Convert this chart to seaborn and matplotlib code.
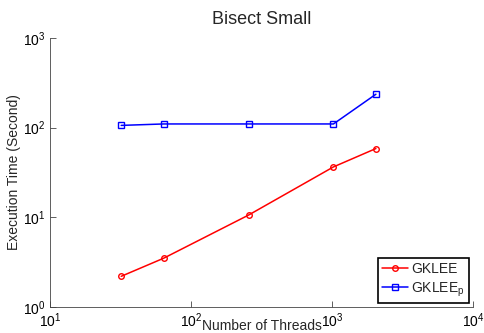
import numpy as np
import pandas as pd
import matplotlib
matplotlib.use("Agg")
import matplotlib.pyplot as plt
import seaborn as sns

threads = [32, 64, 256, 1024, 2048]
gklee = [2.2, 3.5, 10.6, 36.5, 58.5]
gklee_p = [106, 110, 110, 110, 236]
series_names = ["GKLEE", r"GKLEE$_\mathregular{p}$"]

sns.set_style("ticks")
plt.rcParams['font.family'] = ['Liberation Sans', 'DejaVu Sans']
plt.rcParams['mathtext.fontset'] = 'custom'
plt.rcParams['mathtext.rm'] = 'Liberation Sans'

df = pd.DataFrame({
    "threads": threads * 2,
    "time": gklee + gklee_p,
    "series": [series_names[0]] * len(threads) + [series_names[1]] * len(threads),
})

fig = plt.figure(figsize=(4.84, 3.33), dpi=100)
ax = fig.add_axes([50/484, 1 - 307/333, 423/484, 269/333])

sns.lineplot(data=df, x="threads", y="time", hue="series", style="series",
             palette=["#ff0000", "#0000ff"], markers=["o", "s"], dashes=False,
             markersize=4, markerfacecolor="none", markeredgewidth=1.0,
             linewidth=1.1, ax=ax)
for line in ax.lines:
    line.set_markerfacecolor("none")
    line.set_markeredgecolor(line.get_color())

ax.set_xscale("log")
ax.set_yscale("log")
ax.set_xlim(10, 1e4)
ax.set_ylim(1, 1e3)
ax.set_xticks([10, 100, 1000, 10000])
ax.set_yticks([1, 10, 100, 1000])
ax.xaxis.set_minor_locator(matplotlib.ticker.NullLocator())
ax.yaxis.set_minor_locator(matplotlib.ticker.NullLocator())
ax.tick_params(direction="in", length=4, labelsize=10, width=0.6, colors="#444444", labelcolor="black")
for s in ["top", "right"]:
    ax.spines[s].set_visible(False)
for s in ["left", "bottom"]:
    ax.spines[s].set_linewidth(0.6)
    ax.spines[s].set_color("#444444")

ax.set_title("Bisect Small", fontsize=13, pad=10)
ax.set_xlabel("Number of Threads", fontsize=10)
ax.xaxis.set_label_coords(0.5, -0.045)
ax.set_ylabel("Execution Time (Second)", fontsize=10)
ax.yaxis.set_label_coords(-0.068, 0.5)

leg = ax.legend(loc="lower right", fontsize=10, frameon=True, fancybox=False,
                edgecolor="black", framealpha=1, borderaxespad=0.3,
                handlelength=1.9, handletextpad=0.2, borderpad=0.3, labelspacing=0.3)
leg.get_frame().set_linewidth(1.2)

fig.savefig("out.png", dpi=100)
